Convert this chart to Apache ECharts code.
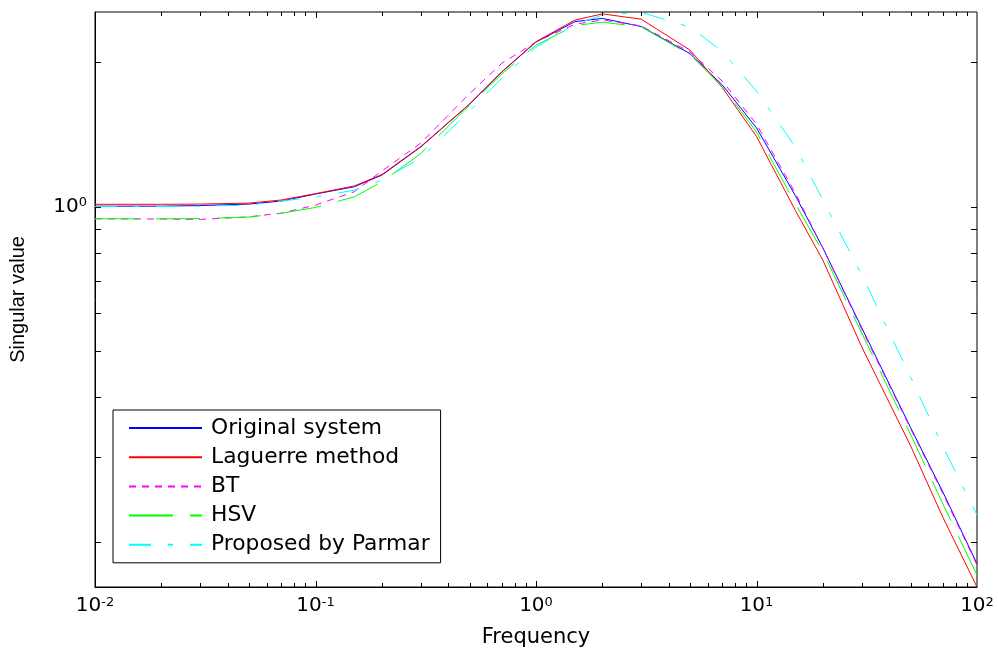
<!DOCTYPE html>
<html>
<head>
<meta charset="utf-8">
<title>Singular value</title>
<script src="https://cdn.jsdelivr.net/npm/echarts@6/dist/echarts.min.js"></script>
<style>
html, body { margin: 0; padding: 0; background: #fff; }
#chart { width: 998px; height: 653px; }
</style>
</head>
<body>
<div id="chart"></div>
<script>
// frequencies
var freq = [0.01, 0.02, 0.03, 0.05, 0.07, 0.1, 0.15, 0.2, 0.3, 0.5, 0.7, 1, 1.5, 2, 3, 5, 7, 10, 15, 20, 30, 50, 70, 100];

// singular values of each model
var original = [1.002, 1.002, 1.005, 1.012, 1.027, 1.062, 1.100, 1.163, 1.331, 1.636, 1.908, 2.203, 2.430, 2.468, 2.373, 2.083, 1.793, 1.459, 1.054, 0.820, 0.559, 0.346, 0.254, 0.180];
var laguerre = [1.011, 1.011, 1.012, 1.017, 1.032, 1.064, 1.104, 1.166, 1.334, 1.636, 1.911, 2.207, 2.448, 2.522, 2.459, 2.119, 1.770, 1.400, 0.982, 0.773, 0.510, 0.317, 0.225, 0.161];
var bt       = [0.943, 0.942, 0.940, 0.952, 0.969, 1.007, 1.074, 1.186, 1.356, 1.720, 1.990, 2.203, 2.400, 2.450, 2.380, 2.100, 1.826, 1.486, 1.067, 0.819, 0.555, 0.344, 0.252, 0.179];
var hsv      = [0.943, 0.943, 0.944, 0.951, 0.968, 0.996, 1.048, 1.126, 1.290, 1.628, 1.890, 2.170, 2.384, 2.424, 2.371, 2.072, 1.778, 1.430, 1.014, 0.804, 0.545, 0.335, 0.240, 0.1705];
var parmar   = [1.000, 1.000, 1.002, 1.007, 1.027, 1.047, 1.082, 1.136, 1.262, 1.582, 1.853, 2.150, 2.400, 2.507, 2.540, 2.367, 2.105, 1.741, 1.332, 1.032, 0.721, 0.441, 0.316, 0.2275];

var seriesNames = ['Original system', 'Laguerre method', 'BT', 'HSV', 'Proposed by Parmar'];

// axis ranges and tick positions
var xMin = 0.01, xMax = 100;
var yMin = 0.161, yMax = 2.545;
var xMajorTicks = [0.1, 1, 10];
var yTicks = [0.2, 0.3, 0.4, 0.5, 0.6, 0.7, 0.8, 0.9, 1, 2];
var xMinorTicks = [];
[0.01, 0.1, 1, 10].forEach(function (d) {
    for (var m = 2; m <= 9; m++) xMinorTicks.push(m * d);
});

function pairs(arr) {
    return freq.map(function (f, i) { return [f, arr[i]]; });
}

function seg(x1, y1, x2, y2) {
    return { type: 'line', shape: { x1: x1, y1: y1, x2: x2, y2: y2 }, style: { stroke: '#000', lineWidth: 1 } };
}

// ticks on all four sides, MATLAB box style
function tickSeries(name, values, axis, len) {
    return {
        type: 'custom',
        name: name,
        silent: true,
        z: 5,
        data: values.map(function (v) { return axis === 'x' ? [v, 1] : [1, v]; }),
        renderItem: function (params, api) {
            var kids = [];
            if (axis === 'x') {
                var v = api.value(0);
                var b = api.coord([v, yMin]), t = api.coord([v, yMax]);
                var x = Math.round(b[0]) + 0.5;
                kids.push(seg(x, b[1], x, b[1] - len));
                kids.push(seg(x, t[1], x, t[1] + len));
            } else {
                var w = api.value(1);
                var l = api.coord([xMin, w]), r = api.coord([xMax, w]);
                var y = Math.round(l[1]) + 0.5;
                kids.push(seg(l[0], y, l[0] + len, y));
                kids.push(seg(r[0], y, r[0] - len, y));
            }
            return { type: 'group', children: kids };
        }
    };
}

function powLabel(v) {
    var e = Math.round(Math.log(v) / Math.LN10);
    return '{b|10}{s|' + e + '}';
}

var richPow = {
    b: { fontFamily: 'DejaVu Sans', fontSize: 20, lineHeight: 20, verticalAlign: 'bottom', color: '#000' },
    s: { fontFamily: 'DejaVu Sans', fontSize: 13, lineHeight: 13, verticalAlign: 'top', padding: [0, 0, 11, 0], color: '#000' }
};

var myChart = echarts.init(document.getElementById('chart'));

var option = {
    backgroundColor: '#fff',
    animation: false,
    grid: {
        left: 95, right: 21, top: 12, bottom: 66,
        show: true, borderColor: '#000', borderWidth: 1, backgroundColor: '#fff'
    },
    legend: {
        orient: 'vertical',
        left: 113, top: 410,
        padding: [7, 11, 7, 15],
        itemGap: 7.2,
        itemWidth: 73,
        itemHeight: 14,
        backgroundColor: '#fff',
        borderColor: '#000',
        borderWidth: 1,
        borderRadius: 0,
        itemStyle: { opacity: 0 },
        textStyle: { fontFamily: 'DejaVu Sans', fontSize: 21.8, lineHeight: 20, color: '#000', padding: [0, 0, 0, 4] },
        data: seriesNames
    },
    xAxis: {
        type: 'log',
        logBase: 10,
        min: xMin,
        max: xMax,
        name: 'Frequency',
        nameLocation: 'middle',
        nameGap: 40,
        nameTextStyle: { fontFamily: 'DejaVu Sans', fontSize: 21, color: '#000' },
        axisLine: { lineStyle: { color: '#000', width: 1 } },
        axisTick: { show: false },
        splitLine: { show: false },
        axisLabel: {
            margin: 9,
            formatter: powLabel,
            rich: richPow
        }
    },
    yAxis: {
        type: 'log',
        logBase: 10,
        min: yMin,
        max: yMax,
        name: 'Singular value',
        nameLocation: 'middle',
        nameGap: 67,
        nameTextStyle: { fontFamily: 'Liberation Sans', fontSize: 20, color: '#000' },
        axisLine: { lineStyle: { color: '#000', width: 1 } },
        axisTick: { show: false },
        splitLine: { show: false },
        axisLabel: {
            margin: 8,
            showMinLabel: false,
            showMaxLabel: false,
            formatter: function (v) {
                return Math.abs(Math.log(v) / Math.LN10) < 1e-6 ? powLabel(v) : '';
            },
            rich: richPow
        }
    },
    series: [
        { name: seriesNames[0], type: 'line', symbol: 'none', data: pairs(original),
          lineStyle: { color: '#0000ff', width: 1 }, itemStyle: { color: '#0000ff' } },
        { name: seriesNames[1], type: 'line', symbol: 'none', data: pairs(laguerre),
          lineStyle: { color: '#ff0000', width: 1 }, itemStyle: { color: '#ff0000' } },
        { name: seriesNames[2], type: 'line', symbol: 'none', data: pairs(bt),
          lineStyle: { color: '#ff00ff', width: 1, type: [7, 6] }, itemStyle: { color: '#ff00ff' } },
        { name: seriesNames[3], type: 'line', symbol: 'none', data: pairs(hsv),
          lineStyle: { color: '#00ff00', width: 1, type: [44, 17] }, itemStyle: { color: '#00ff00' } },
        { name: seriesNames[4], type: 'line', symbol: 'none', data: pairs(parmar),
          lineStyle: { color: '#00ffff', width: 1, type: [22, 17, 5, 17] }, itemStyle: { color: '#00ffff' } },
        tickSeries('xMajor', xMajorTicks, 'x', 6),
        tickSeries('xMinor', xMinorTicks, 'x', 4),
        tickSeries('yTicks', yTicks, 'y', 6)
    ]
};

myChart.setOption(option);
</script>
</body>
</html>
